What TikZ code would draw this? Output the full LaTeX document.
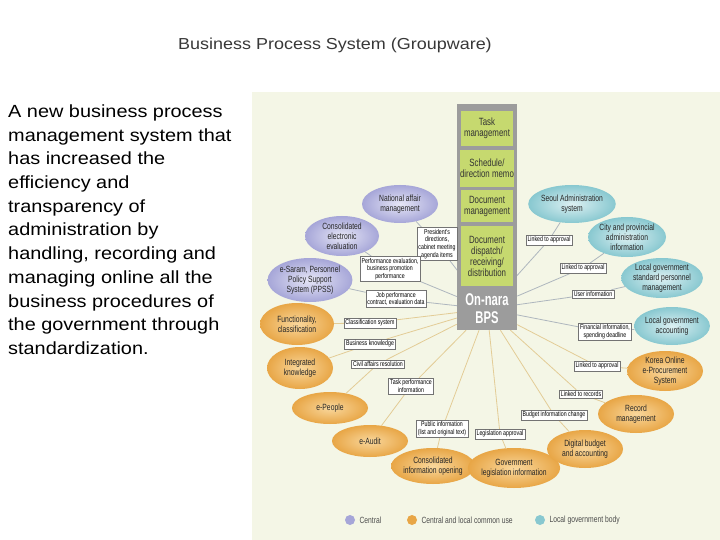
\documentclass[tikz,border=0pt]{standalone}
\usepackage{fontspec}
\setmainfont{Liberation Sans}
\newfontfamily\widefont[FakeStretch=1.13]{Liberation Sans}
\newfontfamily\narrowfont[FakeStretch=0.75]{Liberation Sans}
\newfontfamily\bpsfont[FakeStretch=0.66]{Liberation Sans}
\usetikzlibrary{shapes.geometric,backgrounds}

\definecolor{panel}{HTML}{F4F6E6}
\definecolor{colgray}{HTML}{9C9C9C}
\definecolor{taskgreen}{HTML}{C6D96F}
\definecolor{purpleIn}{HTML}{E6E6F6}
\definecolor{purpleOut}{HTML}{A6A6D8}
\definecolor{orangeIn}{HTML}{F9D79C}
\definecolor{orangeOut}{HTML}{E8A646}
\definecolor{tealIn}{HTML}{DCF0F2}
\definecolor{tealOut}{HTML}{88C8D0}
\definecolor{greyline}{HTML}{AEB6BE}
\definecolor{tanline}{HTML}{E3CC96}

\tikzset{
  sz/.style 2 args={minimum width=#1pt, minimum height=#2pt},
  bubble/.style={ellipse, inner sep=0pt, align=center, text=black!85,
    font=\narrowfont\fontsize{9}{9.8}\selectfont},
  central/.style={bubble, inner color=purpleIn, outer color=purpleOut},
  common/.style={bubble, inner color=orangeIn, outer color=orangeOut},
  localgov/.style={bubble, inner color=tealIn, outer color=tealOut},
  tag/.style={draw=black!55, line width=0.4pt, fill=white, inner sep=1.5pt,
    align=center, font=\narrowfont\fontsize{7}{7.8}\selectfont},
  taskbox/.style={fill=taskgreen, minimum width=52pt, inner sep=0pt, align=center,
    text=black!80, font=\narrowfont\fontsize{10.5}{11}\selectfont},
  greylink/.style={draw=greyline, line width=0.8pt},
  tanlink/.style={draw=tanline, line width=0.8pt},
  keytext/.style={anchor=west, text=black!70, font=\narrowfont\fontsize{9}{10}\selectfont}
}

\begin{document}
\begin{tikzpicture}[x=1pt, y=-1pt]
    \useasboundingbox (0, 0) rectangle (720, 540);

    % heading and text on the left
    \node[anchor=base, text=black!78, font=\widefont\fontsize{15.9}{18}\selectfont] (title) at (335, 50) {Business Process System (Groupware)};
    \node[anchor=north west, inner sep=0pt, align=left, font=\widefont\fontsize{17.6}{23.7}\selectfont] (intro) at (8, 104.5)
        {A new business process\\management system that\\has increased the\\efficiency and\\transparency of\\administration by\\handling, recording and\\managing online all the\\business procedures of\\the government through\\standardization.};

    % central column
    \fill[colgray] (457, 104) rectangle (517, 330);
    \node[taskbox, minimum height=35pt] (task) at (487, 128.5) {Task\\management};
    \node[taskbox, minimum height=37pt] (sched) at (487, 168.5) {Schedule/\\direction memo};
    \node[taskbox, minimum height=32pt] (docm) at (487, 206) {Document\\management};
    \node[taskbox, minimum height=60pt] (disp) at (487, 256) {Document\\dispatch/\\receiving/\\distribution};
    \node[fill=colgray, minimum width=60pt, minimum height=42pt, inner sep=0pt, align=center, text=white,
        font=\bpsfont\bfseries\fontsize{17}{18}\selectfont] (bps) at (487, 309) {On-nara\\BPS};

    % central bodies
    \node[central, sz={76}{38}] (nat) at (400, 204) {National affair\\management};
    \node[central, sz={74}{40}] (cee) at (342, 236) {Consolidated\\electronic\\evaluation};
    \node[central, sz={78}{44}] (esaram) at (310, 280) {e-Saram, Personnel\\Policy Support\\System (PPSS)};

    % central and local common use
    \node[common, sz={74}{42}] (func) at (297, 324) {Functionality,\\classification};
    \node[common, sz={66}{42}] (intk) at (300, 368) {Integrated\\knowledge};
    \node[common, sz={76}{32}] (epeople) at (330, 408) {e-People};
    \node[common, sz={76}{32}] (eaudit) at (370, 441) {e-Audit};
    \node[common, sz={78}{36}] (cio) at (433, 466) {Consolidated\\information opening};
    \node[common, sz={82}{40}] (gli) at (514, 468) {Government\\legislation information};
    \node[common, sz={76}{38}] (dba) at (585, 449) {Digital budget\\and accounting};
    \node[common, sz={76}{38}] (rec) at (636, 414) {Record\\management};
    \node[common, sz={76}{40}] (kon) at (665, 371) {Korea Online\\e-Procurement\\System};

    % local government body
    \node[localgov, sz={78}{38}] (seoul) at (572, 204) {Seoul Administration\\system};
    \node[localgov, sz={76}{40}] (city) at (627, 237) {City and provincial\\administration\\information};
    \node[localgov, sz={78}{40}] (lgs) at (662, 278) {Local government\\standard personnel\\management};
    \node[localgov, sz={74}{38}] (lga) at (672, 326) {Local government\\accounting};

    % exchanged data
    \node[tag] (pres) at (437, 244) {President's\\directions,\\cabinet meeting\\agenda items};
    \node[tag] (perf) at (390, 269) {Performance evaluation,\\business promotion\\performance};
    \node[tag] (job) at (396, 299) {Job performance\\contract, evaluation data};
    \node[tag] (cls) at (370, 323) {Classification system};
    \node[tag] (bkn) at (370, 344) {Business knowledge};
    \node[tag] (civ) at (378, 364) {Civil affairs resolution};
    \node[tag] (tpi) at (411, 386) {Task performance\\information};
    \node[tag] (pub) at (442, 429) {Public information\\(list and original text)};
    \node[tag] (leg) at (500, 434) {Legislation approval};
    \node[tag] (lapa) at (549, 240) {Linked to approval};
    \node[tag] (lapb) at (583, 268) {Linked to approval};
    \node[tag] (usr) at (593, 294) {User information};
    \node[tag] (fin) at (605, 332) {Financial information,\\spending deadline};
    \node[tag] (lapc) at (597, 366) {Linked to approval};
    \node[tag] (lrec) at (581, 394) {Linked to records};
    \node[tag] (bud) at (554, 415) {Budget information change};

    % legend
    \fill[purpleOut] (350, 520) circle (5);
    \node[keytext] (keyc) at (356, 520) {Central};
    \fill[orangeOut] (412, 520) circle (5);
    \node[keytext] (keyl) at (418, 520) {Central and local common use};
    \fill[tealOut] (540, 520) circle (5);
    \node[keytext] (keyg) at (546, 520) {Local government body};

    \begin{scope}[on background layer]
        \fill[panel] (252, 92) rectangle (720, 540);
        \draw[greylink] (nat) -- (pres) -- (bps);
        \draw[greylink] (cee) -- (perf) -- (bps);
        \draw[greylink] (esaram) -- (job) -- (bps);
        \draw[tanlink] (func) -- (cls) -- (bps);
        \draw[tanlink] (intk) -- (bkn) -- (bps);
        \draw[tanlink] (epeople) -- (civ) -- (bps);
        \draw[tanlink] (eaudit) -- (tpi) -- (bps);
        \draw[tanlink] (cio) -- (pub) -- (bps);
        \draw[tanlink] (gli) -- (leg) -- (bps);
        \draw[tanlink] (dba) -- (bud) -- (bps);
        \draw[tanlink] (rec) -- (lrec) -- (bps);
        \draw[tanlink] (kon) -- (lapc) -- (bps);
        \draw[greylink] (lga) -- (fin) -- (bps);
        \draw[greylink] (lgs) -- (usr) -- (bps);
        \draw[greylink] (city) -- (lapb) -- (bps);
        \draw[greylink] (seoul) -- (lapa) -- (bps);
    \end{scope}
\end{tikzpicture}
\end{document}
